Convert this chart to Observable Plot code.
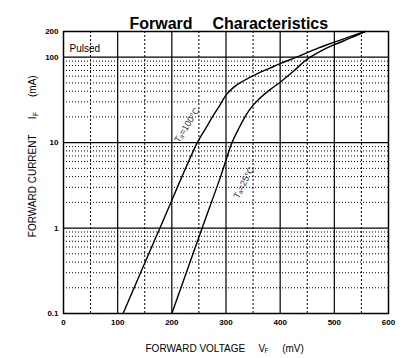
<!DOCTYPE html>
<html><head><meta charset="utf-8">
<script src="https://cdn.jsdelivr.net/npm/d3@7"></script>
<script src="https://cdn.jsdelivr.net/npm/@observablehq/plot@0.6"></script>
<style>
body{margin:0;background:#fff;}
#chart{width:409px;height:358px;}
</style></head><body><div id="chart"></div>
<script>
// T = 100 °C curve (forward voltage mV, forward current mA)
const voltage100 = [110, 178, 247, 262, 275, 288, 300, 315, 330, 357, 380, 400, 430, 470, 500, 530, 557];
const current100 = [0.1, 1, 10, 14.5, 20, 27, 36, 45, 52, 64, 74, 84, 100, 128, 150, 175, 200];
// T = 25 °C curve
const voltage25 = [200, 256, 290, 311, 322, 333, 345, 360, 382, 400, 425, 450, 475, 500, 530, 557];
const current25 = [0.1, 1, 4, 10, 14, 19, 25, 32, 42, 51, 69, 95, 118, 140, 168, 200];

const xTicks = [0, 100, 200, 300, 400, 500, 600];
const yTicks = [0.1, 1, 10, 100, 200];
const majorX = [100, 200, 300, 400, 500];
const minorX = [50, 150, 250, 350, 450, 550];
const majorY = [1, 10, 100];
const minorY = [0.2,0.3,0.4,0.5,0.6,0.7,0.8,0.9, 2,3,4,5,6,7,8,9, 20,30,40,50,60,70,80,90];

const titleParts = ["Forward", "Characteristics"];
const xLabel = ["FORWARD VOLTAGE", "V", "F", "(mV)"];
const yLabel = ["FORWARD CURRENT", "I", "F", "(mA)"];
const curveLabels = ["Tₐ=100°C", "Tₐ=25°C"];

const d100 = voltage100.map((v, i) => ({v, i: current100[i]}));
const d25 = voltage25.map((v, i) => ({v, i: current25[i]}));

const FONT = '"Liberation Sans", Arial, "DejaVu Sans", sans-serif';
const one = (t, o) => Plot.text([t], {text: d => d, frameAnchor: "top-left", fill: "#000", ...o});

const plot = Plot.plot({
  width: 409, height: 358,
  marginTop: 31, marginRight: 21, marginBottom: 45, marginLeft: 63,
  style: {fontFamily: FONT, background: "#fff", color: "#000"},
  x: {domain: [0, 600]},
  y: {type: "log", domain: [0.1, 200]},
  marks: [
    Plot.ruleY(minorY, {stroke: "#000", strokeWidth: 1, strokeDasharray: "1,2"}),
    Plot.ruleX(minorX, {stroke: "#000", strokeWidth: 1, strokeDasharray: "2,2"}),
    Plot.ruleY(majorY, {stroke: "#000", strokeWidth: 1.2}),
    Plot.ruleX(majorX, {stroke: "#000", strokeWidth: 1.2}),
    Plot.line(d100, {x: "v", y: "i", curve: "catmull-rom", stroke: "#000", strokeWidth: 1.4}),
    Plot.line(d25, {x: "v", y: "i", curve: "catmull-rom", stroke: "#000", strokeWidth: 1.4}),
    Plot.frame({stroke: "#000", strokeWidth: 1.5}),
    Plot.axisX({ticks: xTicks, tickSize: 0, tickPadding: 6, fontSize: 8, fontWeight: "bold", label: null, tickFormat: d => String(d)}),
    Plot.axisY({ticks: yTicks, tickSize: 0, tickPadding: 5, fontSize: 8, fontWeight: "bold", label: null, tickFormat: d => d === 0.1 ? "0.1" : String(d)}),
    // title
    one(titleParts[0], {dx: 66, dy: -13.4, textAnchor: "start", fontSize: 16, fontWeight: "bold"}),
    one(titleParts[1], {dx: 149, dy: -13.4, textAnchor: "start", fontSize: 16, fontWeight: "bold"}),
    // pulsed
    one("Pulsed", {dx: 6, dy: 13.1, textAnchor: "start", fontSize: 10}),
    // x label
    one(xLabel[0], {dx: 82, dy: 313.3, textAnchor: "start", fontSize: 10}),
    one(xLabel[1], {dx: 195, dy: 313.3, textAnchor: "start", fontSize: 10}),
    one(xLabel[2], {dx: 201, dy: 316.4, textAnchor: "start", fontSize: 6.5}),
    one(xLabel[3], {dx: 218.7, dy: 313.3, textAnchor: "start", fontSize: 10}),
    // y label
    one(yLabel[0], {dx: -34.2, dy: 205.7, textAnchor: "start", fontSize: 10, rotate: -90}),
    one(yLabel[1], {dx: -34.2, dy: 87.7, textAnchor: "start", fontSize: 10, rotate: -90}),
    one(yLabel[2], {dx: -30.1, dy: 84.5, textAnchor: "start", fontSize: 6.5, rotate: -90}),
    one(yLabel[3], {dx: -34.2, dy: 65.5, textAnchor: "start", fontSize: 10, rotate: -90}),
    // curve labels
    Plot.text([curveLabels[0]], {x: () => 228, y: () => 16, text: d => d, rotate: -58, fontSize: 9, fill: "#2a3042"}),
    Plot.text([curveLabels[1]], {x: () => 333, y: () => 3.4, text: d => d, rotate: -62, fontSize: 9, fill: "#2a3042"})
  ]
});
document.getElementById("chart").appendChild(plot);
</script></body></html>
